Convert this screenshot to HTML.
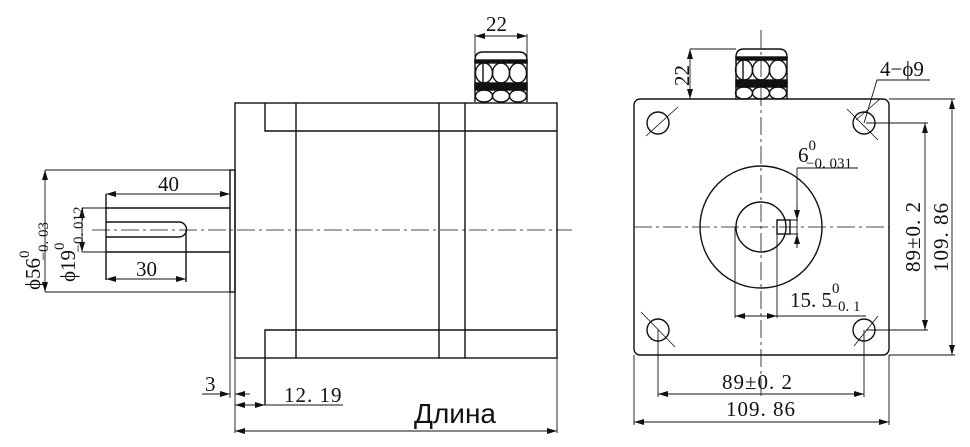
<!DOCTYPE html>
<html><head><meta charset="utf-8"><style>
html,body{margin:0;padding:0;background:#fff;}
svg{display:block;}
text{font-family:"Liberation Serif",serif;fill:#111;}
</style></head><body>
<svg width="970" height="447" viewBox="0 0 970 447" xmlns="http://www.w3.org/2000/svg">
<defs>
<marker id="a" viewBox="0 0 10 6" refX="10" refY="3" markerWidth="10" markerHeight="6" orient="auto-start-reverse" markerUnits="userSpaceOnUse"><path d="M0,0 L10,3 L0,6 z" fill="#111"/></marker>
</defs>
<g stroke="#111" stroke-width="1.4" fill="none">
<rect x="235" y="103" width="322" height="255"/>
<path d="M265 103V131H557 M296 103V358 M439 103V358 M465 103V358 M265 405V330H557"/>
<rect x="230" y="170" width="5" height="122"/>
<path d="M106 208H230 M106 252H230 M106 194V280"/>
<path d="M106 222H179 A7.5 7.5 0 0 1 179 237H106"/>
<path d="M186 230V282"/>
<path d="M92 230H572" stroke-width="0.8" stroke-dasharray="18 4 3 4"/>
<path d="M106 194H230" marker-start="url(#a)" marker-end="url(#a)" stroke-width="0.9"/>
<path d="M106 279H186" marker-start="url(#a)" marker-end="url(#a)" stroke-width="0.9"/>
<path d="M45 170H230 M45 292H230" stroke-width="0.9"/>
<path d="M45 170V292" marker-start="url(#a)" marker-end="url(#a)" stroke-width="0.9"/>
<path d="M82 208H106 M82 252H106" stroke-width="0.9"/>
<path d="M82 208V252" marker-start="url(#a)" marker-end="url(#a)" stroke-width="0.9"/>
<path d="M230 292V398 M235 358V433 M557 358V433" stroke-width="0.9"/>
<path d="M202 394H230" marker-end="url(#a)" stroke-width="0.9"/>
<path d="M250 394H235" marker-end="url(#a)" stroke-width="0.9"/>
<path d="M235 405H265" marker-start="url(#a)" marker-end="url(#a)" stroke-width="0.9"/>
<path d="M265 405H343" stroke-width="0.9"/>
<path d="M235 431H557" marker-start="url(#a)" marker-end="url(#a)" stroke-width="0.9"/>
<path d="M475 34V102 M527 34V102" stroke-width="0.9"/>
<path d="M475 36H527" marker-start="url(#a)" marker-end="url(#a)" stroke-width="0.9"/>
<path d="M475 102V60Q475 52 483 52H519Q527 52 527 60V102"/>
<rect x="475" y="60" width="52" height="3" fill="#111"/>
<rect x="475" y="83" width="52" height="7" fill="#111"/>
<ellipse cx="484" cy="73" rx="8.5" ry="10"/><ellipse cx="501" cy="73" rx="8.5" ry="10"/><ellipse cx="518" cy="73" rx="8.5" ry="10"/>
<ellipse cx="484" cy="96" rx="8.5" ry="6"/><ellipse cx="501" cy="96" rx="8.5" ry="6"/><ellipse cx="518" cy="96" rx="8.5" ry="6"/>
<path d="M483 63V83"/>
<rect x="634" y="99" width="255" height="256" rx="6"/>
<path d="M736 99V57Q736 49 744 49H779Q787 49 787 57V99"/>
<rect x="736" y="57" width="51" height="3" fill="#111"/>
<rect x="736" y="80" width="51" height="7" fill="#111"/>
<ellipse cx="744" cy="70" rx="8.5" ry="10"/><ellipse cx="761" cy="70" rx="8.5" ry="10"/><ellipse cx="778" cy="70" rx="8.5" ry="10"/>
<ellipse cx="744" cy="93" rx="8.5" ry="6"/><ellipse cx="761" cy="93" rx="8.5" ry="6"/><ellipse cx="778" cy="93" rx="8.5" ry="6"/>
<path d="M743 60V80"/>
<path d="M690 49H736" stroke-width="0.9"/>
<path d="M690 49V99" marker-start="url(#a)" marker-end="url(#a)" stroke-width="0.9"/>
<circle cx="658" cy="123" r="11"/><circle cx="864" cy="123" r="11"/>
<circle cx="658" cy="330" r="11"/><circle cx="864" cy="330" r="11"/>
<path d="M646 136L678 107 M847 109L878 140 M880 99L856 120 M641 312L675 347 M854 346L878 316" stroke-width="0.8"/>
<circle cx="761" cy="227" r="61"/>
<circle cx="761" cy="227" r="25"/>
<rect x="777" y="220" width="13" height="14"/>
<path d="M634 227H889 M761 30V400" stroke-width="0.8" stroke-dasharray="18 4 3 4"/>
<path d="M797 168H858" stroke-width="0.9"/>
<path d="M797 168V248" stroke-width="0.9"/>
<path d="M797 205V220" marker-end="url(#a)" stroke-width="0.9"/>
<path d="M797 248V234" marker-end="url(#a)" stroke-width="0.9"/>
<path d="M790 220H798 M790 234H798" stroke-width="0.9"/>
<path d="M735 227V318 M777 234V318" stroke-width="0.9"/>
<path d="M735 316H777" marker-start="url(#a)" marker-end="url(#a)" stroke-width="0.9"/>
<path d="M777 316H866" stroke-width="0.9"/>
<path d="M864 123L877 80H930" stroke-width="0.9"/>
<path d="M866 123H928 M866 330H928" stroke-width="0.9"/>
<path d="M925 123V330" marker-start="url(#a)" marker-end="url(#a)" stroke-width="0.9"/>
<path d="M889 99H955 M889 355H955" stroke-width="0.9"/>
<path d="M952 99V355" marker-start="url(#a)" marker-end="url(#a)" stroke-width="0.9"/>
<path d="M658 330V397 M864 330V397" stroke-width="0.9"/>
<path d="M658 394H864" marker-start="url(#a)" marker-end="url(#a)" stroke-width="0.9"/>
<path d="M634 355V425 M889 355V425" stroke-width="0.9"/>
<path d="M634 422H889" marker-start="url(#a)" marker-end="url(#a)" stroke-width="0.9"/>
</g>
<g font-size="21">
<text x="486" y="31">22</text>
<text x="158" y="191">40</text>
<text x="136" y="276">30</text>
<text x="205" y="391">3</text>
<text x="284" y="402" letter-spacing="1">12. 19</text>
<text transform="translate(40,290) rotate(-90)">ϕ56<tspan font-size="15" dy="-11">0</tspan><tspan font-size="15" dx="-10" dy="19">−0. 03</tspan></text>
<text transform="translate(75,282) rotate(-90)">ϕ19<tspan font-size="15" dy="-11">0</tspan><tspan font-size="15" dx="-10" dy="19">−0. 012</tspan></text>
<text transform="translate(689,86) rotate(-90)">22</text>
<text x="880" y="76">4−ϕ9</text>
<text x="798" y="162">6<tspan font-size="15" dy="-12">0</tspan><tspan font-size="15" dx="-10" dy="18">−0. 031</tspan></text>
<text x="790" y="307">15. 5<tspan font-size="15" dy="-14">0</tspan><tspan font-size="15" dx="-10" dy="18">−0. 1</tspan></text>
<text transform="translate(920,272) rotate(-90)" letter-spacing="1">89±0. 2</text>
<text transform="translate(948,272) rotate(-90)" letter-spacing="1">109. 86</text>
<text x="722" y="389" letter-spacing="1">89±0. 2</text>
<text x="726" y="416" letter-spacing="1">109. 86</text>
</g>
<text x="414" y="423" font-size="28" style="font-family:'Liberation Sans',sans-serif">Длина</text>
</svg>
</body></html>
